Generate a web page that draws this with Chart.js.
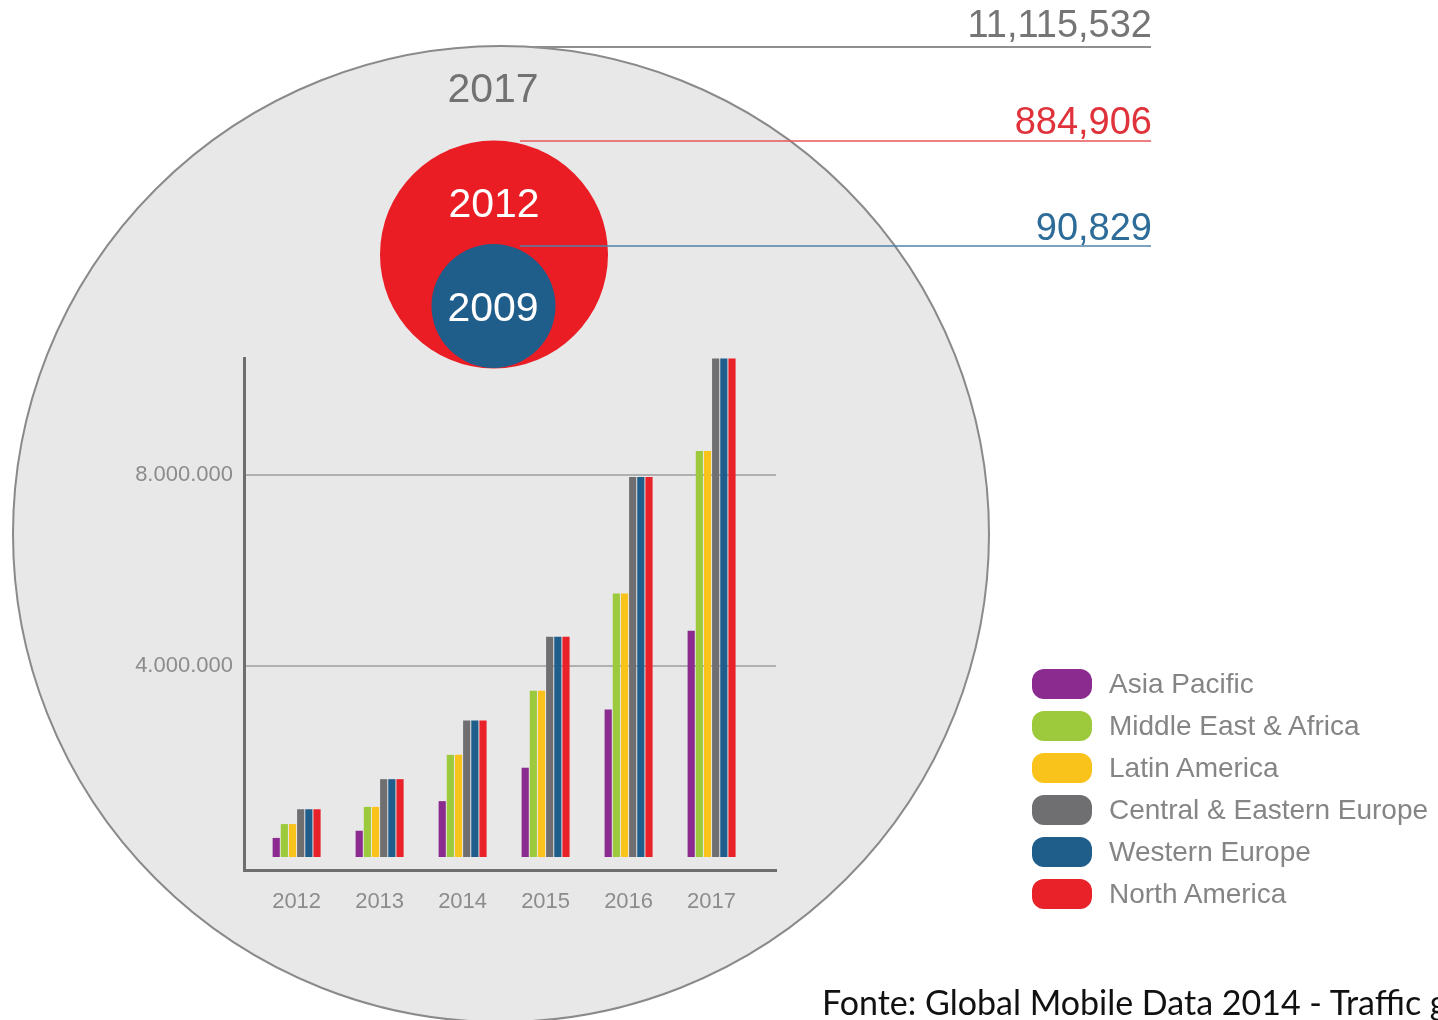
<!DOCTYPE html>
<html>
<head>
<meta charset="utf-8">
<title>Mobile data traffic by region</title>
<script src="https://cdn.jsdelivr.net/npm/chart.js@4.4.1/dist/chart.umd.min.js"></script>
<style>
  html, body { margin: 0; padding: 0; background: #fff; }
  body { width: 1438px; height: 1020px; position: relative; overflow: hidden; font-family: 'Liberation Sans', Arial, sans-serif; }
  #chart { position: absolute; left: 0; top: 0; }
  .total { position: absolute; right: 286px; font-size: 38px; line-height: 38px; white-space: nowrap; }
  .year { position: absolute; width: 140px; font-size: 41px; line-height: 41px; text-align: center; }
  #legend { position: absolute; left: 1032px; top: 663px; }
  .row { display: flex; align-items: center; height: 42px; }
  .swatch { width: 60px; height: 30px; border-radius: 12px; margin-right: 17px; }
  .row span { font-size: 28px; color: #858585; white-space: nowrap; }
  #source { position: absolute; left: 822px; top: 985px; font-family: Lato, sans-serif; font-size: 34px; line-height: 34px; color: #111; white-space: nowrap; }
</style>
</head>
<body>
<canvas id="chart" width="1438" height="1020"></canvas>
<div id="labels"></div>
<div id="legend"></div>
<div id="source">Fonte: Global Mobile Data 2014 - Traffic growth</div>
<script>
// yearly traffic per region
const years = ['2012', '2013', '2014', '2015', '2016', '2017'];
const asiaPacific = [400000, 550000, 1170000, 1870000, 3090000, 4740000];
const middleEastAfrica = [690000, 1050000, 2140000, 3480000, 5520000, 8500000];
const latinAmerica = [690000, 1050000, 2140000, 3480000, 5520000, 8500000];
const centralEasternEurope = [1000000, 1630000, 2860000, 4610000, 7960000, 10440000];
const westernEurope = [1000000, 1630000, 2860000, 4610000, 7960000, 10440000];
const northAmerica = [1000000, 1630000, 2860000, 4610000, 7960000, 10440000];
const yTicks = [4000000, 8000000];

const regionNames = ['Asia Pacific', 'Middle East & Africa', 'Latin America',
    'Central & Eastern Europe', 'Western Europe', 'North America'];
const regionSeries = [asiaPacific, middleEastAfrica, latinAmerica,
    centralEasternEurope, westernEurope, northAmerica];
const regionColors = ['#8b2a8f', '#9dca3c', '#f9c31b', '#6f6f72', '#1f5d8b', '#e9222a'];

// global totals shown in the bubbles
const totalYears = ['2009', '2012', '2017'];
const totals = [90829, 884906, 11115532];

// bubble look and where each one sits
const bubbleStyle = [
    { fill: '#1f5d8b', text: '#2d6b98', line: '#4f82aa', cx: 493.5, cy: 306, r: 62, lineY: 246, yearColor: '#fff' },
    { fill: '#ea1d25', text: '#e0323a', line: '#e9555a', cx: 494, cy: 254.5, r: 114, lineY: 141, yearColor: '#fff' },
    { fill: '#e8e8e8', text: '#757575', line: '#8f8f8f', cx: 501, cy: 534, r: 488, lineY: 47, yearColor: '#727272' }
];
const yearLabelX = [493, 494, 493];
const yearLabelCenter = [307, 203, 88];
const totalLabelCenter = [227, 121, 24];
const lineStartX = [520, 520, 530];
const lineEndX = 1151;

const bubblePlugin = {
    id: 'bubbles',
    beforeDraw(chart) {
        const ctx = chart.ctx;
        ctx.save();
        // biggest first so the smaller ones sit on top
        for (let i = bubbleStyle.length - 1; i >= 0; i--) {
            const b = bubbleStyle[i];
            ctx.beginPath();
            ctx.arc(b.cx, b.cy, b.r, 0, Math.PI * 2);
            ctx.fillStyle = b.fill;
            ctx.fill();
            if (i === 2) {
                ctx.lineWidth = 2;
                ctx.strokeStyle = '#8a8a8a';
                ctx.stroke();
            }
        }
        for (let i = 0; i < bubbleStyle.length; i++) {
            const b = bubbleStyle[i];
            ctx.beginPath();
            ctx.moveTo(lineStartX[i], b.lineY);
            ctx.lineTo(lineEndX, b.lineY);
            ctx.lineWidth = i === 2 ? 2 : 1.6;
            ctx.strokeStyle = b.line;
            ctx.stroke();
        }
        ctx.restore();
    }
};

const tickFont = { size: 22, family: "'Liberation Sans', Arial, sans-serif" };

const chart = new Chart(document.getElementById('chart'), {
    type: 'bar',
    data: {
        datasets: regionNames.map((name, k) => ({
            label: name,
            data: years.map((yr, i) => ({ x: i, y: regionSeries[k][i] })),
            backgroundColor: regionColors[k],
            borderWidth: 0,
            categoryPercentage: 0.59,
            barPercentage: 0.88
        }))
    },
    options: {
        responsive: false,
        animation: false,
        layout: { padding: { left: 0, top: 358, right: 662, bottom: 90 } },
        plugins: {
            legend: { display: false },
            tooltip: { enabled: false }
        },
        scales: {
            x: {
                type: 'linear',
                offset: false,
                min: -0.634,
                max: 5.776,
                grid: { display: false, drawTicks: false, offset: false },
                border: { color: '#6e6e6e', width: 3 },
                afterBuildTicks: s => { s.ticks = years.map((y, i) => ({ value: i })); },
                afterFit: s => { s.height = 60; },
                ticks: {
                    callback: v => years[v],
                    color: '#8c8c8c',
                    font: tickFont,
                    padding: 19,
                    autoSkip: false,
                    maxRotation: 0
                }
            },
            y: {
                min: -272000,
                max: 10450000,
                afterBuildTicks: s => { s.ticks = yTicks.map(v => ({ value: v })); },
                afterFit: s => { s.width = 244; },
                grid: { color: '#b0b0b0', lineWidth: 2, drawTicks: false },
                border: { color: '#6e6e6e', width: 3 },
                ticks: {
                    callback: v => v.toLocaleString('de-DE'),
                    color: '#8c8c8c',
                    font: tickFont,
                    padding: 11
                }
            }
        }
    },
    plugins: [bubblePlugin]
});

// bubble year labels and totals
const labelBox = document.getElementById('labels');
totals.forEach((t, i) => {
    const b = bubbleStyle[i];
    const yr = document.createElement('div');
    yr.className = 'year';
    yr.textContent = totalYears[i];
    yr.style.left = (yearLabelX[i] - 70) + 'px';
    yr.style.top = (yearLabelCenter[i] - 20) + 'px';
    yr.style.color = b.yearColor;
    labelBox.appendChild(yr);

    const tot = document.createElement('div');
    tot.className = 'total';
    tot.textContent = t.toLocaleString('en-US');
    tot.style.top = (totalLabelCenter[i] - 19) + 'px';
    tot.style.color = b.text;
    labelBox.appendChild(tot);
});

// legend built from the datasets
const legend = document.getElementById('legend');
chart.data.datasets.forEach(ds => {
    const row = document.createElement('div');
    row.className = 'row';
    const sw = document.createElement('div');
    sw.className = 'swatch';
    sw.style.background = ds.backgroundColor;
    const txt = document.createElement('span');
    txt.textContent = ds.label;
    row.appendChild(sw);
    row.appendChild(txt);
    legend.appendChild(row);
});
</script>
</body>
</html>
